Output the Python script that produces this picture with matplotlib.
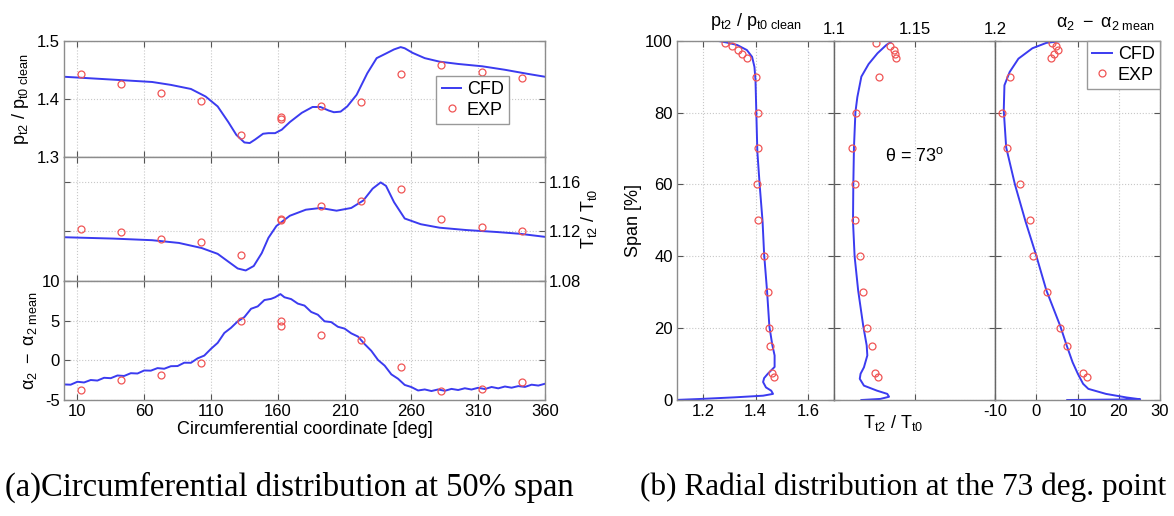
import matplotlib
matplotlib.use('Agg')
import matplotlib.pyplot as plt

plt.rcParams['font.family'] = ['Liberation Sans', 'DejaVu Sans']
plt.rcParams['mathtext.fontset'] = 'custom'
plt.rcParams['mathtext.rm'] = 'Liberation Sans'
plt.rcParams['mathtext.it'] = 'Liberation Sans:italic'
plt.rcParams['mathtext.sf'] = 'Liberation Sans'
plt.rcParams['axes.unicode_minus'] = False

CFD_COLOR = '#3b3bf0'
EXP_COLOR = '#f05555'
SPINE_COLOR = '#8c8c8c'
GRID_COLOR = '#c8c8c8'

# --- (a) circumferential distribution at 50% span ---
theta_pt = [0, 37, 66, 80, 95, 106, 115, 123, 129, 135, 139, 143, 149, 153, 158, 163, 169, 178,
            186, 192, 198, 202, 207, 212, 219, 227, 234, 241, 247, 252, 255, 261, 270, 281, 295,
            313, 330, 347, 360]
pt_cfd = [1.438, 1.433, 1.429, 1.424, 1.417, 1.404, 1.387, 1.360, 1.338, 1.325, 1.324, 1.330,
          1.340, 1.341, 1.341, 1.347, 1.360, 1.376, 1.386, 1.386, 1.380, 1.377, 1.378, 1.387,
          1.407, 1.444, 1.470, 1.478, 1.485, 1.489, 1.487, 1.479, 1.470, 1.464, 1.460, 1.456,
          1.450, 1.443, 1.438]

theta_tt = [0, 37, 66, 86, 103, 115, 123, 130, 136, 142, 148, 153, 159, 169, 181, 192, 204, 215,
            224, 231, 237, 241, 247, 255, 267, 281, 301, 324, 341, 360]
tt_cfd = [1.1153, 1.1142, 1.1129, 1.1107, 1.1066, 1.1019, 1.0956, 1.0901, 1.0885, 1.0921,
          1.1025, 1.1148, 1.1244, 1.1326, 1.1375, 1.1389, 1.1367, 1.1389, 1.1449, 1.1545,
          1.1595, 1.1567, 1.1436, 1.1304, 1.1258, 1.1230, 1.1211, 1.1195, 1.1181, 1.1156]

theta_alpha = [0, 5, 10, 15, 20, 25, 30, 35, 40, 45, 50, 55, 60, 65, 70, 75, 80, 85, 90, 95,
               100, 105, 110, 115, 120, 125, 130, 135, 140, 145, 150, 155, 158, 162, 165, 170,
               175, 180, 185, 190, 195, 200, 205, 210, 215, 220, 225, 230, 235, 240, 245, 250,
               255, 260, 265, 270, 275, 280, 285, 290, 295, 300, 305, 310, 315, 320, 325, 330,
               335, 340, 345, 350, 355, 360]
alpha_cfd = [-3.04, -3.07, -2.70, -2.79, -2.48, -2.55, -2.20, -2.25, -1.91, -1.97, -1.62, -1.66,
             -1.28, -1.30, -0.98, -1.06, -0.74, -0.72, -0.30, -0.31, 0.25, 0.60, 1.45, 2.20,
             3.45, 4.10, 4.91, 5.45, 6.50, 6.80, 7.60, 7.75, 7.95, 8.35, 7.95, 7.72, 7.15, 6.90,
             6.10, 5.75, 4.92, 4.82, 4.23, 4.00, 3.40, 3.00, 2.05, 1.20, 0.05, -0.67, -1.77,
             -2.32, -3.10, -3.37, -3.80, -3.67, -3.87, -3.67, -3.84, -3.60, -3.74, -3.52, -3.68,
             -3.46, -3.62, -3.36, -3.53, -3.30, -3.45, -3.25, -3.35, -3.07, -3.18, -2.95]

theta_exp = [12.5, 42.5, 72.5, 102.5, 132.5, 162.5, 162.5, 192.5, 222.5, 252.5, 282.5, 312.5, 342.5]
pt_exp = [1.443, 1.426, 1.410, 1.397, 1.338, 1.369, 1.366, 1.387, 1.395, 1.443, 1.458, 1.447, 1.436]
tt_exp = [1.1222, 1.1195, 1.1140, 1.1112, 1.1011, 1.1299, 1.1288, 1.1408, 1.1444, 1.1545,
          1.1299, 1.1236, 1.1203]
alpha_exp = [-3.77, -2.51, -1.80, -0.33, 5.02, 4.94, 4.39, 3.22, 2.59, -0.84, -3.89, -3.64, -2.72]

# --- (b) radial distribution at theta = 73 deg ---
span_pt = [100, 99.9, 99.5, 98.8, 97.4, 95.5, 92.7, 89.0, 80.4, 69.2, 59.8, 49.7, 40.5, 30.5,
           20.5, 15.4, 12.4, 9.2, 7.3, 6.1, 5.0, 3.5, 2.6, 1.7, 1.2, 0.74, 0.28, 0]
pt_rad_cfd = [1.19, 1.26, 1.29, 1.33, 1.367, 1.387, 1.396, 1.40, 1.403, 1.407, 1.416, 1.427,
              1.433, 1.444, 1.453, 1.464, 1.473, 1.473, 1.447, 1.433, 1.429, 1.44, 1.46, 1.467,
              1.429, 1.32, 1.187, 1.09]

span_tt = [100, 98.8, 96.5, 93.5, 90, 84.3, 80.1, 70.3, 60, 49.7, 40, 30.5, 20.5, 15.2, 12.4,
           9.1, 7.3, 5.9, 4.0, 2.6, 1.7, 0.9, 0.3, 0]
tt_rad_cfd = [1.1365, 1.1325, 1.127, 1.1215, 1.117, 1.1145, 1.1133, 1.1124, 1.112, 1.1118,
              1.1128, 1.115, 1.1182, 1.1203, 1.1207, 1.1186, 1.1165, 1.116, 1.1186, 1.1267,
              1.1331, 1.1342, 1.1288, 1.117]

span_al = [100, 99.4, 97.9, 95.0, 91.3, 87.6, 80.6, 70.3, 60, 49.7, 40.5, 30.5, 20.5, 15.2,
           10.5, 7.3, 4.5, 3.1, 1.7, 0.7, 0.2, 0]
al_rad_cfd = [6.69, 2.46, -0.93, -4.32, -6.44, -7.71, -7.88, -7.29, -5.17, -2.6, -0.08, 2.46,
              5.85, 7.37, 8.81, 10.08, 11.36, 12.63, 16.9, 21.9, 25.2, 7.5]

span_exp = [99.3, 98.4, 97.3, 96.4, 95.3, 90, 80, 70, 60, 50, 40, 30, 20, 15, 7.5, 6.5]
pt_rad_exp = [1.283, 1.311, 1.333, 1.349, 1.366, 1.403, 1.411, 1.411, 1.404, 1.411, 1.433,
              1.447, 1.451, 1.457, 1.464, 1.469]
tt_rad_exp = [1.126, 1.1345, 1.1372, 1.138, 1.1383, 1.128, 1.1135, 1.1111, 1.1128, 1.1128,
              1.116, 1.1182, 1.1203, 1.1235, 1.1256, 1.1274]
al_rad_exp = [3.9, 4.83, 5.17, 4.32, 3.47, -6.44, -8.39, -7.12, -3.9, -1.53, -0.68, 2.71,
              5.85, 7.37, 11.36, 12.2]

circ_ticks = [10, 60, 110, 160, 210, 260, 310, 360]


def style(ax):
    for s in ax.spines.values():
        s.set_color(SPINE_COLOR)
        s.set_linewidth(1.0)
    ax.tick_params(direction='in', top=True, right=True, length=4, width=0.8,
                   color='#555555', labelsize=12, pad=3)
    ax.grid(True, linestyle=':', color=GRID_COLOR, linewidth=0.8)


def cfd(ax, x, y):
    return ax.plot(x, y, color=CFD_COLOR, lw=1.4, label='CFD')[0]


def exp(ax, x, y):
    return ax.plot(x, y, 'o', mfc='none', mec=EXP_COLOR, ms=5, mew=0.9, label='EXP')[0]


fig = plt.figure(figsize=(11.74, 5.16), dpi=100)
W, H = 1174.0, 516.0


def box(x0, y0, x1, y1):
    return [x0 / W, 1 - y1 / H, (x1 - x0) / W, (y1 - y0) / H]


leg_kw = dict(fontsize=13, handlelength=1.1, handletextpad=0.3, borderpad=0.3,
              labelspacing=0.2, fancybox=False, edgecolor='#999999', framealpha=1)

# left column
a1 = fig.add_axes(box(64, 40.7, 545, 157))
a2 = fig.add_axes(box(64, 157, 545, 281))
a3 = fig.add_axes(box(64, 281, 545, 400))

h1 = cfd(a1, theta_pt, pt_cfd)
h2 = exp(a1, theta_exp, pt_exp)
a1.set_ylim(1.3, 1.5)
a1.set_yticks([1.3, 1.4, 1.5])
a1.set_ylabel(r'$\mathregular{p_{t2}\ /\ p_{t0\ clean}}$', fontsize=13, labelpad=4)
a1.legend(handles=[h1, h2], loc='center left', bbox_to_anchor=(0.755, 0.49), **leg_kw)

cfd(a2, theta_tt, tt_cfd)
exp(a2, theta_exp, tt_exp)
a2.set_ylim(1.08, 1.18)
a2.set_yticks([1.08, 1.12, 1.16])
a2.set_ylabel(r'$\mathregular{T_{t2}\ /\ T_{t0}}$', fontsize=13, labelpad=-2)
a2.yaxis.set_label_position('right')

cfd(a3, theta_alpha, alpha_cfd)
exp(a3, theta_exp, alpha_exp)
a3.set_ylim(-5, 10)
a3.set_yticks([-5, 0, 5, 10])
a3.set_ylabel(r'$\mathregular{\alpha_2\ -\ \alpha_{2\ mean}}$', fontsize=13, labelpad=2)
a3.set_xlabel('Circumferential coordinate [deg]', fontsize=13, labelpad=1)

for ax in (a1, a2, a3):
    style(ax)
    ax.set_xlim(0, 360)
    ax.set_xticks(circ_ticks)
a1.tick_params(labelbottom=False)
a2.tick_params(labelbottom=False, labelleft=False, labelright=True)

# right column
r1 = fig.add_axes(box(677, 40.7, 834, 400))
r2 = fig.add_axes(box(834, 40.7, 995, 400))
r3 = fig.add_axes(box(995, 40.7, 1160, 400))

cfd(r1, pt_rad_cfd, span_pt)
exp(r1, pt_rad_exp, span_exp)
r1.set_xlim(1.1, 1.7)
r1.set_xticks([1.2, 1.4, 1.6])
r1.set_ylabel('Span [%]', fontsize=13, labelpad=2)
r1.text(0.5, 1.025, r'$\mathregular{p_{t2}\ /\ p_{t0\ clean}}$', transform=r1.transAxes,
        ha='center', va='bottom', fontsize=13)

cfd(r2, tt_rad_cfd, span_tt)
exp(r2, tt_rad_exp, span_exp)
r2.set_xlim(1.1, 1.2)
r2.set_xticks([1.1, 1.15, 1.2])
r2.set_xticklabels(['1.1', '1.15', '1.2'])
r2.text(0.37, -0.035, r'$\mathregular{T_{t2}\ /\ T_{t0}}$', transform=r2.transAxes,
        ha='center', va='top', fontsize=13)
r2.text(0.5, 0.68, r'$\mathregular{\theta}$ = 73$^\mathregular{o}$', transform=r2.transAxes,
        ha='center', va='center', fontsize=13)

g1 = cfd(r3, al_rad_cfd, span_al)
g2 = exp(r3, al_rad_exp, span_exp)
r3.set_xlim(-10, 30)
r3.set_xticks([-10, 0, 10, 20, 30])
r3.text(0.67, 1.025, r'$\mathregular{\alpha_2\ -\ \alpha_{2\ mean}}$', transform=r3.transAxes,
        ha='center', va='bottom', fontsize=13)
r3.legend(handles=[g1, g2], loc='upper right', borderaxespad=0, **leg_kw)

for ax in (r1, r2, r3):
    style(ax)
    ax.set_ylim(0, 100)
    ax.set_yticks([0, 20, 40, 60, 80, 100])
r2.tick_params(labelleft=False, labelbottom=False, labeltop=True)
r3.tick_params(labelleft=False)
r2.spines['left'].set_color('#666666')
r3.spines['left'].set_color('#666666')

fig.text(5 / W, 1 - 487 / H, '(a)Circumferential distribution at 50% span',
         family='Liberation Serif', fontsize=23.5, va='center', ha='left')
fig.text(640 / W, 1 - 487 / H, '(b) Radial distribution at the 73 deg. point',
         family='Liberation Serif', fontsize=22.5, va='center', ha='left')

fig.savefig('out.png', dpi=100)
